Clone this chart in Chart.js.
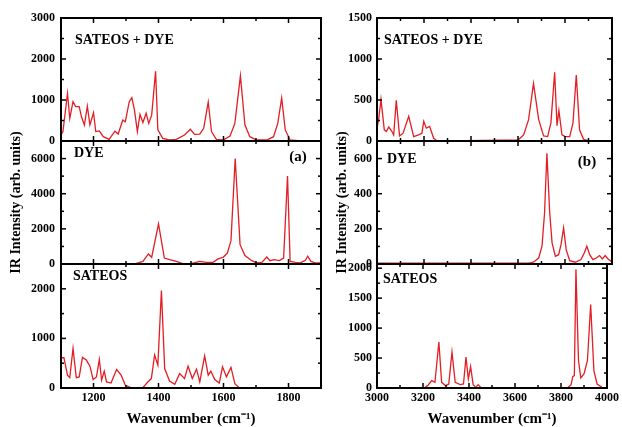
<!DOCTYPE html>
<html>
<head>
<meta charset="utf-8">
<script src="https://cdn.jsdelivr.net/npm/chart.js@4.4.0/dist/chart.umd.min.js"></script>
<style>
  html, body { margin: 0; padding: 0; background: #fff; }
  #wrap { position: relative; width: 622px; height: 427px; overflow: hidden; }
  #wrap canvas { position: absolute; top: 0; }
</style>
</head>
<body>
<div id="wrap"></div>
<script>
// ---- panel (a), 1100-1900 cm-1 ----
const aSatDyeX = [1100,1106,1120,1127,1137,1145,1156,1163,1172,1181,1189,1200,1207,1218,1230,1248,1266,1276,1290,1298,1310,1318,1326,1335,1343,1352,1362,1370,1379,1391,1398,1413,1434,1455,1480,1498,1511,1527,1539,1553,1563,1578,1599,1620,1635,1652,1666,1681,1702,1733,1754,1767,1779,1790,1805,1830,1900];
const aSatDyeY = [150,230,1160,550,960,840,840,590,390,850,390,690,230,245,105,40,240,170,510,470,960,1057,760,230,650,450,675,430,630,1700,270,65,25,40,146,285,160,170,310,950,230,40,25,120,430,1590,390,105,25,25,105,430,1050,270,25,10,10];

const aDyeX = [1100,1150,1200,1207,1215,1250,1300,1330,1352,1369,1379,1400,1418,1434,1455,1475,1501,1527,1547,1568,1583,1599,1612,1623,1636,1651,1666,1687,1702,1718,1733,1743,1756,1772,1785,1797,1805,1821,1836,1852,1859,1869,1882,1900];
const aDyeY = [10,10,10,40,10,10,10,20,150,570,380,2290,340,250,150,20,20,150,95,95,290,380,630,1330,6000,1100,480,190,60,95,400,190,250,190,340,5010,150,95,60,210,440,150,60,60];

const aSatX = [1100,1109,1120,1127,1137,1147,1156,1166,1178,1189,1199,1209,1218,1225,1233,1240,1254,1271,1285,1298,1315,1352,1367,1378,1388,1398,1409,1419,1434,1450,1465,1480,1491,1504,1517,1527,1542,1553,1561,1573,1587,1597,1609,1623,1635,1648,1700,1900];
const aSatY = [610,610,258,210,800,210,224,617,563,440,170,224,576,156,339,122,100,373,258,54,7,7,120,190,665,460,1966,393,142,75,290,190,440,190,380,122,650,258,339,170,100,427,224,414,88,7,5,5];

// ---- panel (b), 3000-4000 cm-1 ----
const bSatDyeX = [3000,3007,3017,3031,3040,3050,3061,3071,3082,3096,3111,3135,3156,3177,3191,3199,3210,3224,3241,3255,3300,3600,3624,3645,3666,3688,3709,3726,3740,3756,3766,3774,3787,3801,3820,3834,3848,3862,3879,3900,4000];
const bSatDyeY = [157,260,508,136,116,170,128,74,496,62,95,300,54,74,95,240,157,178,33,4,2,12,74,260,702,260,62,54,219,838,186,372,74,54,54,219,805,136,20,5,5];

const bDyeX = [3000,3300,3600,3650,3666,3688,3702,3713,3723,3735,3745,3759,3773,3783,3794,3805,3820,3844,3868,3882,3893,3905,3919,3933,3947,3959,3971,3983,4000];
const bDyeY = [5,5,5,6,10,34,100,290,630,290,120,44,53,110,206,82,19,10,25,63,101,53,25,34,48,29,48,29,12];

const bSatX = [3000,3206,3220,3238,3252,3269,3281,3298,3312,3326,3340,3362,3376,3387,3397,3407,3418,3430,3440,3451,3500,3830,3844,3851,3858,3865,3876,3886,3900,3915,3929,3943,3957,3978,4000];
const bSatY = [5,5,39,123,95,767,95,39,67,600,95,56,67,515,151,358,56,11,56,11,5,10,56,190,207,1982,459,168,235,459,1394,291,67,11,5];

// ---- ticks ----
const aXTicks = [1200,1400,1600,1800];
const aXMinor = [1300,1500,1700];
const bXTicks = [3000,3200,3400,3600,3800,4000];
const bXMinor = [3100,3300,3500,3700,3900];

const yTicks = {
  aSatDye: [0,1000,2000,3000], aDye: [0,2000,4000,6000], aSat: [0,1000,2000],
  bSatDye: [0,500,1000,1500], bDye: [0,200,400,600], bSat: [0,500,1000,1500,2000]
};
const yMinor = {
  aSatDye: [500,1500,2500], aDye: [1000,3000,5000], aSat: [500,1500],
  bSatDye: [250,750,1250], bDye: [100,300,500], bSat: [250,750,1250,1750]
};
const yMax = { aSatDye: 3000, aDye: 7000, aSat: 2500, bSatDye: 1500, bDye: 700, bSat: 2070 };

const LINE_RED = "#e31e24";
const SERIF = "'Liberation Serif', 'Times New Roman', serif";

const frameTicks = {
  id: "frameTicks",
  afterDatasetsDraw(chart, args, opts) {
    const { ctx, chartArea: a, scales: { x, y } } = chart;
    ctx.save();
    ctx.strokeStyle = "#000";
    ctx.lineWidth = 1.5;
    const seg = (x1, y1, x2, y2) => { ctx.beginPath(); ctx.moveTo(x1, y1); ctx.lineTo(x2, y2); ctx.stroke(); };
    const xt = (vals, len) => vals.forEach(v => {
      const p = x.getPixelForValue(v);
      if (p <= a.left + 1 || p >= a.right - 1) return;
      seg(p, a.bottom, p, a.bottom - len);
      seg(p, a.top, p, a.top + len);
    });
    const yt = (vals, len) => vals.forEach(v => {
      const p = y.getPixelForValue(v);
      if (p <= a.top + 1 || p >= a.bottom - 1) return;
      seg(a.left, p, a.left + len, p);
      seg(a.right, p, a.right - len, p);
    });
    xt(opts.xMajor, 5); xt(opts.xMinor, 3);
    yt(opts.yMajor, 5); yt(opts.yMinor, 3);
    ctx.lineWidth = 2;
    ctx.strokeRect(a.left, a.top, a.right - a.left, a.bottom - a.top);

    ctx.fillStyle = "#000";
    ctx.textBaseline = "middle";
    (opts.texts || []).forEach(t => {
      ctx.font = "bold " + t.size + "px " + SERIF;
      if (t.fromRight) {
        ctx.textAlign = "center";
        ctx.fillText(t.text, a.right - t.dx, a.top + t.dy);
      } else {
        ctx.textAlign = "left";
        ctx.fillText(t.text, a.left + t.dx, a.top + t.dy);
      }
    });
    ctx.restore();
  }
};

const wrap = document.getElementById("wrap");
const H = 427;

function makePlot(p) {
  const cv = document.createElement("canvas");
  cv.width = p.width; cv.height = H;
  cv.style.left = p.left + "px";
  cv.style.width = p.width + "px"; cv.style.height = H + "px";
  wrap.appendChild(cv);

  const tickFont = { family: SERIF, size: 12, weight: "bold" };
  new Chart(cv.getContext("2d"), {
    type: "line",
    data: {
      datasets: [{
        data: p.xs.map((v, i) => ({ x: v, y: p.ys[i] })),
        borderColor: LINE_RED,
        borderWidth: 1.3,
        pointRadius: 0,
        tension: 0,
        fill: false
      }]
    },
    options: {
      responsive: false,
      animation: false,
      devicePixelRatio: 1,
      layout: { padding: { left: 0, right: p.width - (p.plotRight - p.left), top: p.top, bottom: p.showX ? 0 : H - p.bottom } },
      plugins: {
        legend: { display: false },
        tooltip: { enabled: false },
        frameTicks: { xMajor: p.xTicks, xMinor: p.xMinor, yMajor: p.yTicks, yMinor: p.yMinor, texts: p.texts }
      },
      scales: {
        x: {
          type: "linear",
          min: p.xMin, max: p.xMax,
          display: p.showX,
          afterBuildTicks: s => { s.ticks = p.xTicks.map(v => ({ value: v })); },
          afterFit: s => { s.height = p.showX ? H - p.bottom : 0; },
          grid: { display: false, drawTicks: false },
          border: { display: false },
          ticks: { font: tickFont, color: "#000", padding: 3, maxRotation: 0, autoSkip: false, callback: v => String(v) },
          title: {
            display: true, text: "Wavenumber (cm\u207B\u00B9)", color: "#000",
            font: { family: SERIF, size: 15, weight: "bold", lineHeight: 1 },
            padding: { top: 0, bottom: 0 }
          }
        },
        y: {
          type: "linear",
          min: 0, max: p.yMax,
          afterBuildTicks: s => { s.ticks = p.yTicks.map(v => ({ value: v })); },
          afterFit: s => { s.width = p.plotLeft - p.left; },
          grid: { display: false, drawTicks: false },
          border: { display: false },
          ticks: { font: tickFont, color: "#000", padding: p.tickPad, callback: v => String(v) },
          title: {
            display: !!p.yTitle, text: "IR Intensity (arb. units)", color: "#000",
            font: { family: SERIF, size: 14, weight: "bold", lineHeight: 1 },
            padding: { top: p.titlePad, bottom: 0 }
          }
        }
      }
    },
    plugins: [frameTicks]
  });
}

const panels = [
  { key: "a", left: 0, width: 330, plotLeft: 61, plotRight: 321, xMin: 1100, xMax: 1900, xTicks: aXTicks, xMinor: aXMinor, tickPad: 6, titlePad: 9 },
  { key: "b", left: 322, width: 300, plotLeft: 377, plotRight: 612, xMin: 3000, xMax: 4000, xTicks: bXTicks, xMinor: bXMinor, tickPad: 5, titlePad: 13 }
];
const rows = [
  { name: "SatDye", top: 18, bottom: 141 },
  { name: "Dye", top: 141, bottom: 264 },
  { name: "Sat", top: 264, bottom: 388 }
];
const series = {
  aSatDye: [aSatDyeX, aSatDyeY], aDye: [aDyeX, aDyeY], aSat: [aSatX, aSatY],
  bSatDye: [bSatDyeX, bSatDyeY], bDye: [bDyeX, bDyeY], bSat: [bSatX, bSatY]
};
const labels = {
  aSatDye: [{ text: "SATEOS + DYE", size: 14, dx: 14, dy: 22 }],
  aDye: [{ text: "DYE", size: 14, dx: 13, dy: 12 }, { text: "(a)", size: 15, dx: 23, dy: 16, fromRight: true }],
  aSat: [{ text: "SATEOS", size: 14, dx: 12, dy: 12 }],
  bSatDye: [{ text: "SATEOS + DYE", size: 14, dx: 7, dy: 22 }],
  bDye: [{ text: "DYE", size: 14, dx: 10, dy: 18 }, { text: "(b)", size: 15, dx: 25, dy: 21, fromRight: true }],
  bSat: [{ text: "SATEOS", size: 14, dx: 6, dy: 15 }]
};

panels.forEach(pn => {
  rows.forEach((r, i) => {
    const k = pn.key + r.name;
    makePlot(Object.assign({}, pn, {
      top: r.top, bottom: r.bottom,
      showX: i === 2, yTitle: i === 1,
      xs: series[k][0], ys: series[k][1],
      yTicks: yTicks[k], yMinor: yMinor[k], yMax: yMax[k],
      texts: labels[k]
    }));
  });
});
</script>
</body>
</html>
